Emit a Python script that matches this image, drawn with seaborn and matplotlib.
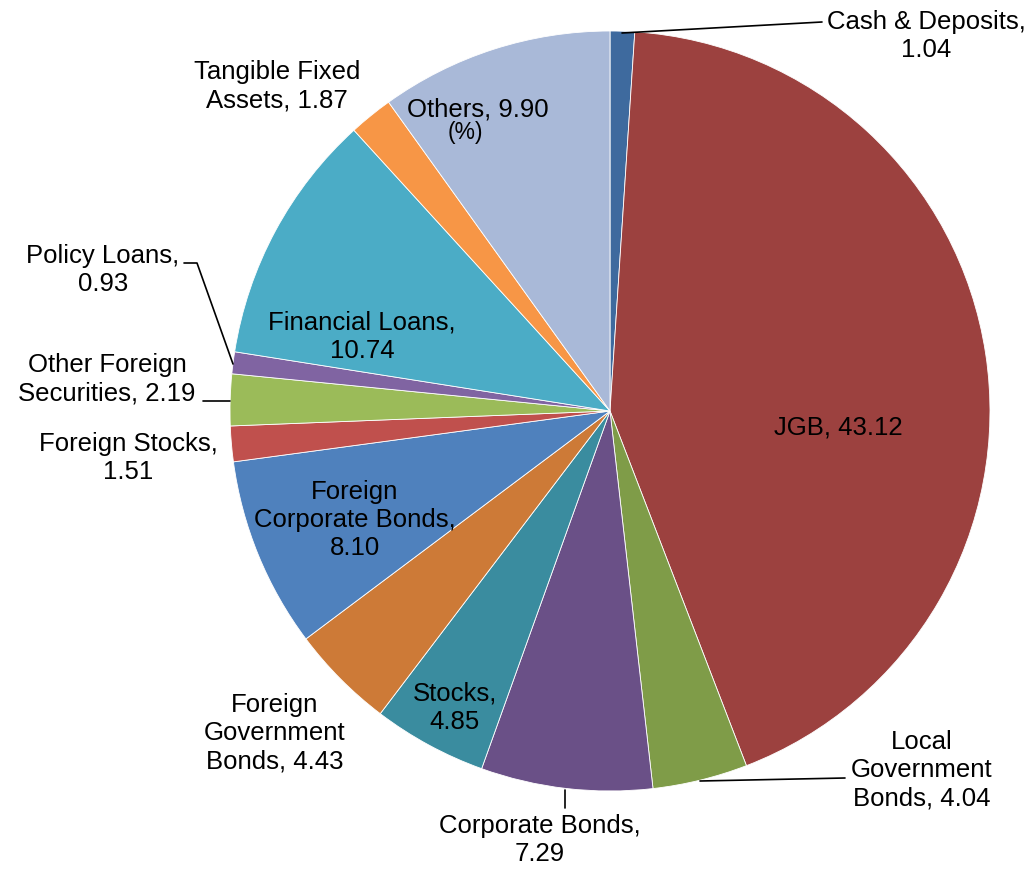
import matplotlib
matplotlib.use("Agg")
import matplotlib.pyplot as plt
import seaborn as sns

sns.set_theme(style="white")
plt.rcParams["font.family"] = ["Liberation Sans", "DejaVu Sans"]

# Asset allocation (%), clockwise from 12 o'clock
categories = [
    "Cash & Deposits", "JGB", "Local Government Bonds", "Corporate Bonds",
    "Stocks", "Foreign Government Bonds", "Foreign Corporate Bonds",
    "Foreign Stocks", "Other Foreign Securities", "Policy Loans",
    "Financial Loans", "Tangible Fixed Assets", "Others",
]
shares = [1.04, 43.12, 4.04, 7.29, 4.85, 4.43, 8.10, 1.51, 2.19, 0.93, 10.74, 1.87, 9.90]
label_text = [
    "Cash & Deposits,\n1.04", "JGB, 43.12", "Local\nGovernment\nBonds, 4.04",
    "Corporate Bonds,\n7.29", "Stocks,\n4.85", "Foreign\nGovernment\nBonds, 4.43",
    "Foreign\nCorporate Bonds,\n8.10", "Foreign Stocks,\n1.51",
    "Other Foreign\nSecurities, 2.19", "Policy Loans,\n0.93",
    "Financial Loans,\n10.74", "Tangible Fixed\nAssets, 1.87", "Others, 9.90",
]
colors = [
    "#3E6A9E", "#9C413F", "#7F9C48", "#6A5087", "#3A8C9F", "#CD7A37",
    "#4F81BD", "#C0504D", "#9BBB59", "#8064A2", "#4BACC6", "#F79646", "#A9B9D8",
]

W, H = 1034, 869
fig = plt.figure(figsize=(W / 100, H / 100), dpi=100)
ax = fig.add_axes([0, 0, 1, 1])

cx, cy, r = 610, H - 411, 380
ax.pie(shares, colors=colors, startangle=90, counterclock=False,
       center=(cx, cy), radius=r, frame=True,
       wedgeprops=dict(edgecolor="white", linewidth=0.6))
ax.set_xlim(0, W)
ax.set_ylim(0, H)
ax.set_aspect("equal")
ax.axis("off")

# label placement (x, y measured from the top)
label_pos = [
    (926, 36), (838, 427), (922, 770), (540, 840), (455, 708), (275, 733),
    (355, 520), (128, 458), (107, 379), (103, 270), (362, 337), (277, 86),
    (478, 110),
]
fs = 18.5
for txt, (x, y) in zip(label_text, label_pos):
    ax.text(x, H - y, txt, ha="center", va="center", fontsize=fs,
            color="black", linespacing=1.22)
ax.text(465, H - 133, "(%)", ha="center", va="center", fontsize=16.5, color="black")

# leader lines
leaders = [
    [(622, 33), (822, 22)],
    [(700, 781), (845, 778)],
    [(565, 790), (565, 808)],
    [(203, 401), (230, 401)],
    [(184, 263), (197, 263), (233, 364)],
]
for pts in leaders:
    xs = [p[0] for p in pts]
    ys = [H - p[1] for p in pts]
    ax.plot(xs, ys, color="black", linewidth=1.2)

fig.savefig("out.png", dpi=100)
